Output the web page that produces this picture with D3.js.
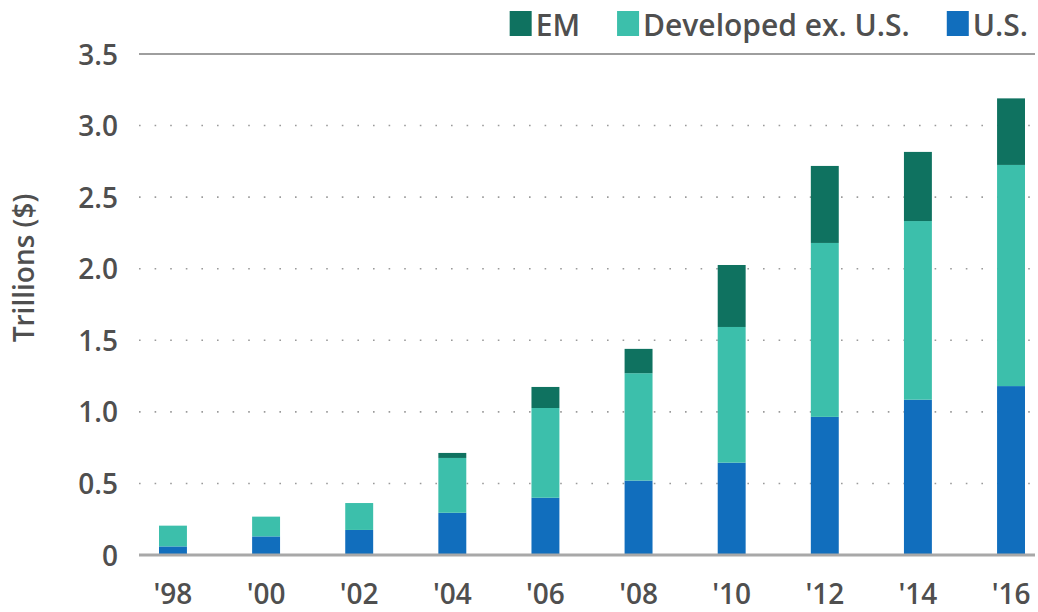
<!DOCTYPE html>
<html>
<head>
<meta charset="utf-8">
<script src="https://cdn.jsdelivr.net/npm/d3@7"></script>
<style>
  html, body { margin: 0; padding: 0; background: #fff; }
  svg { display: block; }
  text { font-family: "Open Sans", "Noto Sans", sans-serif; fill: #4f4f4f; font-weight: 600; }
</style>
</head>
<body>
<svg id="chart" width="1038" height="612"></svg>
<script>
// Market size by region, trillions of dollars
const years = ["'98", "'00", "'02", "'04", "'06", "'08", "'10", "'12", "'14", "'16"];
const usValues = [0.06, 0.13, 0.175, 0.295, 0.40, 0.52, 0.645, 0.965, 1.085, 1.18];
const developedValues = [0.145, 0.138, 0.188, 0.383, 0.627, 0.75, 0.948, 1.215, 1.248, 1.545];
const emValues = [0, 0, 0, 0.035, 0.147, 0.17, 0.433, 0.538, 0.483, 0.465];
const yTicks = [0, 0.5, 1.0, 1.5, 2.0, 2.5, 3.0, 3.5];
const seriesNames = ["U.S.", "Developed ex. U.S.", "EM"];
const legendOrder = ["EM", "Developed ex. U.S.", "U.S."];
const colors = { "U.S.": "#116ebd", "Developed ex. U.S.": "#3cbfab", "EM": "#0f7260" };

const rows = years.map((yr, i) => ({
  year: yr,
  "U.S.": usValues[i],
  "Developed ex. U.S.": developedValues[i],
  "EM": emValues[i]
}));

const svg = d3.select("#chart");
const plotLeft = 139, plotRight = 1035;

const y = d3.scaleLinear().domain([0, 3.5]).range([555, 54]);
const x = d3.scaleBand().domain(years).range([159, 1025]).paddingInner(0.7).paddingOuter(0);

// Dotted gridlines
svg.append("g").selectAll("line")
  .data(yTicks.filter(t => t > 0 && t < 3.5))
  .join("line")
  .attr("x1", plotLeft).attr("x2", plotRight)
  .attr("y1", d => y(d)).attr("y2", d => y(d))
  .attr("stroke", "#9a9a9a")
  .attr("stroke-width", 1.6)
  .attr("stroke-dasharray", "1.6,14");

// Top rule
svg.append("line")
  .attr("x1", plotLeft).attr("x2", plotRight)
  .attr("y1", y(3.5)).attr("y2", y(3.5))
  .attr("stroke", "#9e9e9e").attr("stroke-width", 2);

// Stacked bars
const stack = d3.stack().keys(seriesNames);
const layers = stack(rows);
svg.append("g").selectAll("g")
  .data(layers)
  .join("g")
  .attr("fill", d => colors[d.key])
  .selectAll("rect")
  .data(d => d.filter(p => p[1] - p[0] > 0))
  .join("rect")
  .attr("x", d => x(d.data.year))
  .attr("width", x.bandwidth())
  .attr("y", d => y(d[1]))
  .attr("height", d => y(d[0]) - y(d[1]));

// Baseline
svg.append("line")
  .attr("x1", plotLeft).attr("x2", plotRight)
  .attr("y1", y(0)).attr("y2", y(0))
  .attr("stroke", "#a8a8a8").attr("stroke-width", 3);

// Y axis labels
const yAxis = d3.axisLeft(y).tickValues(yTicks)
  .tickFormat(d => d === 0 ? "0" : d3.format(".1f")(d))
  .tickSize(0).tickPadding(0);
const yg = svg.append("g").attr("transform", "translate(118,0)").call(yAxis);
yg.select(".domain").remove();
yg.selectAll("text")
  .attr("font-size", 28)
  .attr("dy", "0.36em")
  .style("font-family", "'Open Sans', sans-serif")
  .attr("fill", "#4f4f4f");

// X axis labels
const xAxis = d3.axisBottom(x).tickSize(0).tickPadding(0);
const xg = svg.append("g").attr("transform", "translate(0,604)").call(xAxis);
xg.select(".domain").remove();
xg.selectAll("text")
  .attr("font-size", 28)
  .attr("dy", 0)
  .attr("y", 0)
  .style("font-family", "'Open Sans', sans-serif")
  .attr("fill", "#4f4f4f");

// Axis title
svg.append("text")
  .attr("transform", "translate(34,268) rotate(-90)")
  .attr("text-anchor", "middle")
  .attr("font-size", 28)
  .text("Trillions ($)");

// Legend, laid out right to left
const legend = svg.append("g");
let rightEdge = 1028;
legendOrder.slice().reverse().forEach(name => {
  const t = legend.append("text")
    .attr("font-size", 30)
    .attr("y", 36)
    .attr("text-anchor", "end")
    .attr("x", rightEdge)
    .text(name);
  const w = t.node().getComputedTextLength();
  const textStart = rightEdge - w;
  legend.append("rect")
    .attr("x", textStart - 26).attr("y", 11)
    .attr("width", 22).attr("height", 25)
    .attr("fill", colors[name]);
  rightEdge = textStart - 26 - 37;
});
</script>
</body>
</html>
